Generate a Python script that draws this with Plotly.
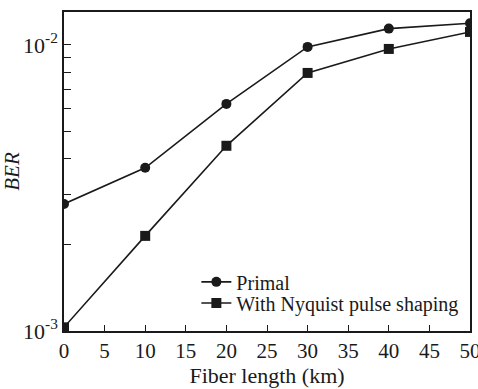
import plotly.graph_objects as go

fiber_km = [0, 10, 20, 30, 40, 50]
ber_primal = [2.78e-3, 3.72e-3, 6.22e-3, 9.84e-3, 1.14e-2, 1.19e-2]
ber_nyquist = [1.03e-3, 2.15e-3, 4.44e-3, 7.98e-3, 9.68e-3, 1.11e-2]
x_ticks = [0, 5, 10, 15, 20, 25, 30, 35, 40, 45, 50]
y_ticks = [1e-3, 1e-2]
y_ticktext = ["10<sup>-3</sup>", "10<sup>-2</sup>"]
y_minor = [2e-3, 3e-3, 4e-3, 5e-3, 6e-3, 7e-3, 8e-3, 9e-3]

FONT = "Liberation Serif"
C = "#1a1a1a"

fig = go.Figure()
fig.add_trace(go.Scatter(x=fiber_km, y=ber_primal, mode="lines+markers", name="Primal",
                         line=dict(color=C, width=1.6),
                         marker=dict(symbol="circle", size=10, color=C),
                         legend="legend"))
fig.add_trace(go.Scatter(x=fiber_km, y=ber_nyquist, mode="lines+markers",
                         name="With Nyquist pulse shaping",
                         line=dict(color=C, width=1.6),
                         marker=dict(symbol="square", size=10, color=C),
                         legend="legend2"))

leg_common = dict(xanchor="left", yanchor="middle", bgcolor="rgba(0,0,0,0)",
                  font=dict(size=20, family=FONT, color=C))

fig.update_layout(
    width=478, height=389,
    margin=dict(l=64, r=8, t=12, b=58, autoexpand=False),
    paper_bgcolor="white", plot_bgcolor="white",
    font=dict(family=FONT, color=C, size=20),
    showlegend=True,
    legend=dict(x=0.326, y=0.154, **leg_common),
    legend2=dict(x=0.326, y=0.088, **leg_common),
)
fig.update_xaxes(range=[0, 50], tickvals=x_ticks, ticks="inside", ticklen=6,
                 tickwidth=1.2, tickcolor=C, showline=True, linecolor=C,
                 linewidth=1.5, mirror=True, showgrid=False, zeroline=False,
                 ticklabeloverflow="allow", automargin=False,
                 tickfont=dict(size=21, family=FONT),
                 title=dict(text="Fiber length (km)", font=dict(size=22, family=FONT),
                            standoff=0))
fig.update_yaxes(type="log", range=[-3.0, -1.885], tickvals=y_ticks, ticktext=y_ticktext,
                 ticks="inside", ticklen=7, tickwidth=1.2, tickcolor=C,
                 minor=dict(tickvals=y_minor, ticks="inside", ticklen=7, tickcolor=C,
                            tickwidth=1.2, showgrid=False),
                 showline=True, linecolor=C, linewidth=1.5, mirror=True,
                 showgrid=False, zeroline=False, automargin=False,
                 tickfont=dict(size=22, family=FONT),
                 title=dict(text="<i>BER</i>", font=dict(size=21, family=FONT),
                            standoff=0))

# remove the default 8px page margin so the figure fills the window exactly
fig.write_html("out.html", config={"displayModeBar": False},
               post_script="document.body.style.margin='0';document.body.style.overflow='hidden';")
